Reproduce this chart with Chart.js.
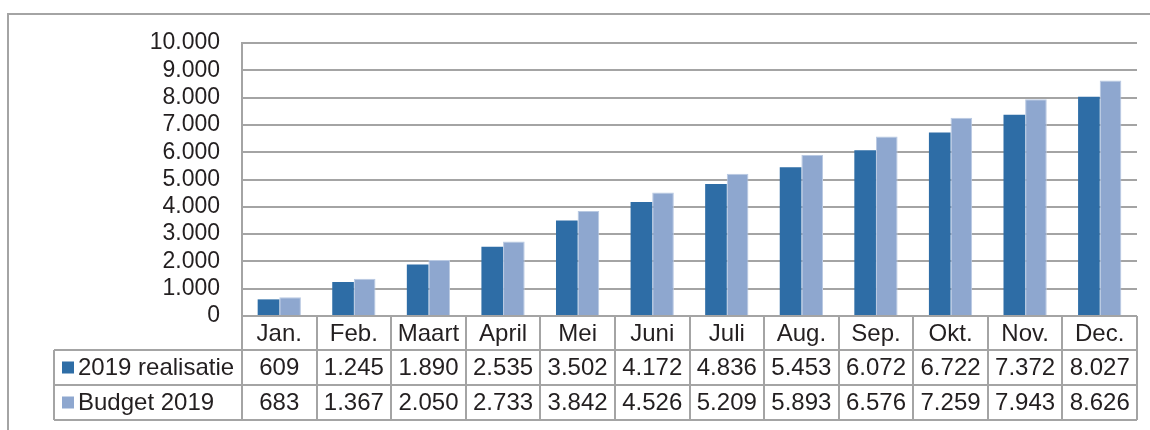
<!DOCTYPE html>
<html>
<head>
<meta charset="utf-8">
<script src="https://cdn.jsdelivr.net/npm/chart.js@4.4.0/dist/chart.umd.min.js"></script>
<style>
  html, body { margin: 0; background: #fff; }
  canvas { display: block; }
</style>
</head>
<body>
<canvas id="chart" width="1150" height="430"></canvas>
<script>
// ---------- Data ----------
const months = ['Jan.', 'Feb.', 'Maart', 'April', 'Mei', 'Juni', 'Juli', 'Aug.', 'Sep.', 'Okt.', 'Nov.', 'Dec.'];
const realisatie = [609, 1245, 1890, 2535, 3502, 4172, 4836, 5453, 6072, 6722, 7372, 8027];
const budget = [683, 1367, 2050, 2733, 3842, 4526, 5209, 5893, 6576, 7259, 7943, 8626];
const seriesNames = ['2019 realisatie', 'Budget 2019'];
const yMax = 10000;
const yStep = 1000;

// ---------- Look ----------
const darkBlue = '#2e6da6';
const lightBlue = '#8ea7cf';
const lineGrey = '#a4a4a4';
const textColor = '#231f20';
const fontFamily = '"Liberation Sans", Arial, sans-serif';
const tickSize = 23;
const tableSize = 24;

// dutch thousands separator
function fmt(n) {
  return String(n).replace(/\B(?=(\d{3})+(?!\d))/g, '.');
}

// outer frame + data table under the plot
const tablePlugin = {
  id: 'dataTable',
  beforeDraw(chart) {
    const ctx = chart.ctx;
    ctx.save();
    ctx.strokeStyle = lineGrey;
    ctx.lineWidth = 2;
    ctx.beginPath();
    ctx.moveTo(8, 431);
    ctx.lineTo(8, 14);
    ctx.lineTo(1151, 14);
    ctx.stroke();
    ctx.restore();
  },
  afterDraw(chart) {
    const ctx = chart.ctx;
    const area = chart.chartArea;
    const colW = (area.right - area.left) / months.length;
    const legendLeft = 54;
    const rows = [area.bottom, area.bottom + 34, area.bottom + 69, area.bottom + 104];

    ctx.save();
    ctx.strokeStyle = lineGrey;
    ctx.lineWidth = 2;
    ctx.beginPath();
    // horizontal lines
    ctx.moveTo(area.left, rows[0]); ctx.lineTo(area.right, rows[0]);
    for (let r = 1; r < rows.length; r++) {
      ctx.moveTo(legendLeft, rows[r]); ctx.lineTo(area.right, rows[r]);
    }
    // vertical lines
    for (let i = 0; i <= months.length; i++) {
      const x = Math.round(area.left + i * colW);
      ctx.moveTo(x, rows[0]); ctx.lineTo(x, rows[3]);
    }
    ctx.moveTo(legendLeft, rows[1]); ctx.lineTo(legendLeft, rows[3]);
    ctx.stroke();

    // texts
    ctx.fillStyle = textColor;
    ctx.font = tableSize + 'px ' + fontFamily;
    ctx.textAlign = 'center';
    ctx.textBaseline = 'middle';
    const series = [realisatie, budget];
    months.forEach((m, i) => {
      const cx = area.left + (i + 0.5) * colW;
      ctx.fillText(m, cx, (rows[0] + rows[1]) / 2 + 1);
      series.forEach((s, r) => {
        ctx.fillText(fmt(s[i]), cx, (rows[r + 1] + rows[r + 2]) / 2 + 1);
      });
    });

    // legend keys in the first column
    const colors = [darkBlue, lightBlue];
    ctx.textAlign = 'left';
    seriesNames.forEach((name, r) => {
      const cy = (rows[r + 1] + rows[r + 2]) / 2;
      ctx.fillStyle = colors[r];
      ctx.fillRect(62, cy - 6, 12, 12);
      ctx.fillStyle = textColor;
      ctx.fillText(name, 78, cy + 1);
    });
    ctx.restore();
  }
};

new Chart(document.getElementById('chart'), {
  type: 'bar',
  data: {
    labels: months,
    datasets: [
      { label: seriesNames[0], data: realisatie, backgroundColor: darkBlue, borderWidth: 0 },
      { label: seriesNames[1], data: budget, backgroundColor: lightBlue,
        borderColor: '#b9c9e2', borderWidth: 1 }
    ]
  },
  options: {
    responsive: false,
    animation: false,
    layout: { padding: { top: 43, right: 13, bottom: 114, left: 0 } },
    plugins: { legend: { display: false }, tooltip: { enabled: false } },
    datasets: { bar: { categoryPercentage: 0.58, barPercentage: 1 } },
    scales: {
      x: { display: false },
      y: {
        min: 0, max: yMax,
        afterFit(scale) { scale.width = 242; },
        border: { display: true, color: lineGrey, width: 2 },
        grid: { color: lineGrey, lineWidth: 2, drawTicks: false },
        ticks: {
          stepSize: yStep,
          autoSkip: false,
          padding: 22,
          color: textColor,
          font: { family: fontFamily, size: tickSize },
          callback: v => fmt(v)
        }
      }
    }
  },
  plugins: [tablePlugin]
});
</script>
</body>
</html>
